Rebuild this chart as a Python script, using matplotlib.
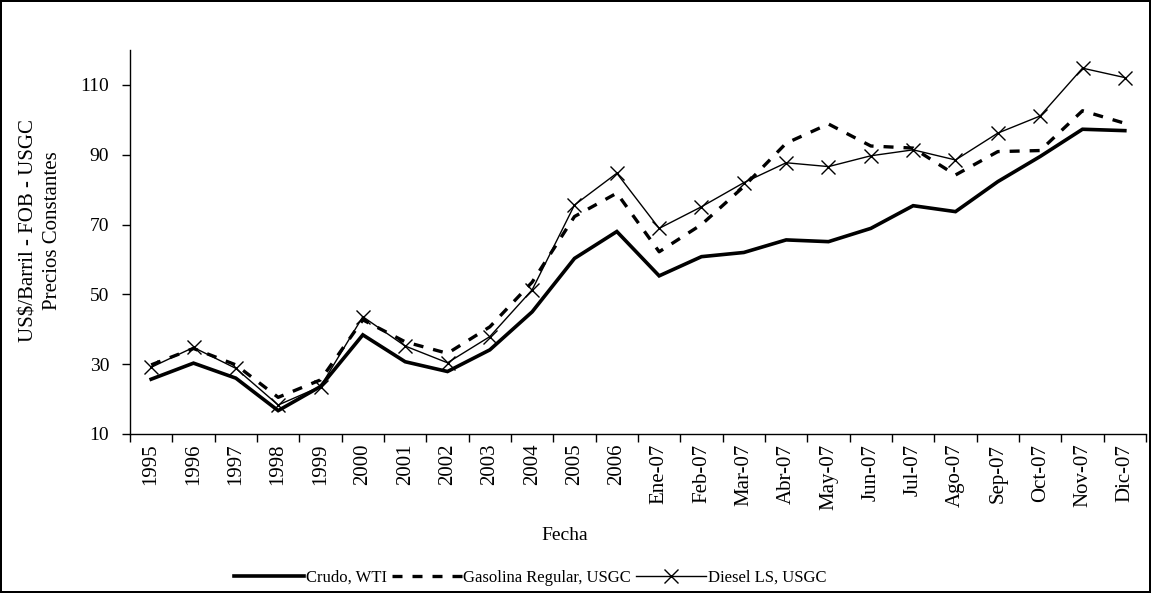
import matplotlib
matplotlib.use("Agg")
import matplotlib.pyplot as plt
import numpy as np

categories = ["1995", "1996", "1997", "1998", "1999", "2000", "2001", "2002", "2003",
              "2004", "2005", "2006", "Ene-07", "Feb-07", "Mar-07", "Abr-07", "May-07",
              "Jun-07", "Jul-07", "Ago-07", "Sep-07", "Oct-07", "Nov-07", "Dic-07"]
crudo_wti = [25.7, 30.3, 26.0, 16.7, 23.6, 38.4, 30.7, 27.9, 34.1, 45.0, 60.3, 68.0,
             55.3, 60.8, 62.0, 65.6, 65.1, 68.9, 75.4, 73.7, 82.3, 89.5, 97.3, 96.9]
gasolina = [29.8, 34.5, 29.8, 20.5, 25.5, 42.7, 36.4, 33.1, 40.7, 53.5, 72.3, 79.0,
            62.2, 70.0, 80.9, 93.3, 98.8, 92.5, 91.9, 84.2, 90.9, 91.2, 102.6, 99.0]
diesel = [29.1, 34.8, 28.8, 18.3, 23.6, 43.6, 35.2, 30.4, 37.9, 51.3, 75.6, 84.7,
          68.9, 75.1, 82.0, 87.7, 86.6, 89.7, 91.4, 88.5, 96.2, 101.1, 114.8, 112.1]
y_ticks = [10, 30, 50, 70, 90, 110]

plt.rcParams['font.family'] = ['Liberation Serif', 'DejaVu Serif']

fig = plt.figure(figsize=(11.51, 5.93), dpi=100)
fig.patch.set_edgecolor('black')
fig.patch.set_linewidth(1.5)
ax = fig.add_axes([130/1151, 1 - 434/593, (1146-130)/1151, (434-50)/593])

x = np.arange(len(categories))
ax.plot(x, crudo_wti, color='black', lw=2.6, label='Crudo, WTI', solid_joinstyle='miter')
ax.plot(x, gasolina, color='black', lw=2.4, dashes=(3, 3), label='Gasolina Regular, USGC')
ax.plot(x, diesel, color='black', lw=1.0, marker='x', markersize=10, markeredgewidth=1.0,
        label='Diesel LS, USGC')

ax.set_xlim(-0.5, len(categories) - 0.5)
ax.set_ylim(10, 120)
ax.set_yticks(y_ticks)
ax.set_xticks(x)
ax.set_xticklabels(categories, rotation=90, fontsize=15)
ax.tick_params(axis='x', length=0, pad=7)
ax.set_xticks(np.arange(-0.5, len(categories), 1), minor=True)
ax.tick_params(axis='x', which='minor', length=6, direction='out', width=1)
ax.tick_params(axis='y', labelsize=14, length=6, direction='out', width=1, pad=9)
for s in ['top', 'right']:
    ax.spines[s].set_visible(False)
for s in ['left', 'bottom']:
    ax.spines[s].set_linewidth(1)

fig.text(41/1151, 1 - 231/593, 'US$/Barril - FOB - USGC\nPrecios Constantes',
         rotation=90, ha='center', va='center', fontsize=15, linespacing=1.3)
fig.text(565/1151, 1 - 535/593, 'Fecha', ha='center', va='center', fontsize=14)

fig.legend(loc='center', bbox_to_anchor=(530/1151, 1 - 578/593), ncol=3, frameon=False,
           fontsize=12, handlelength=4.2, handletextpad=0.1, columnspacing=0.3)

fig.savefig('out.png', dpi=100)
